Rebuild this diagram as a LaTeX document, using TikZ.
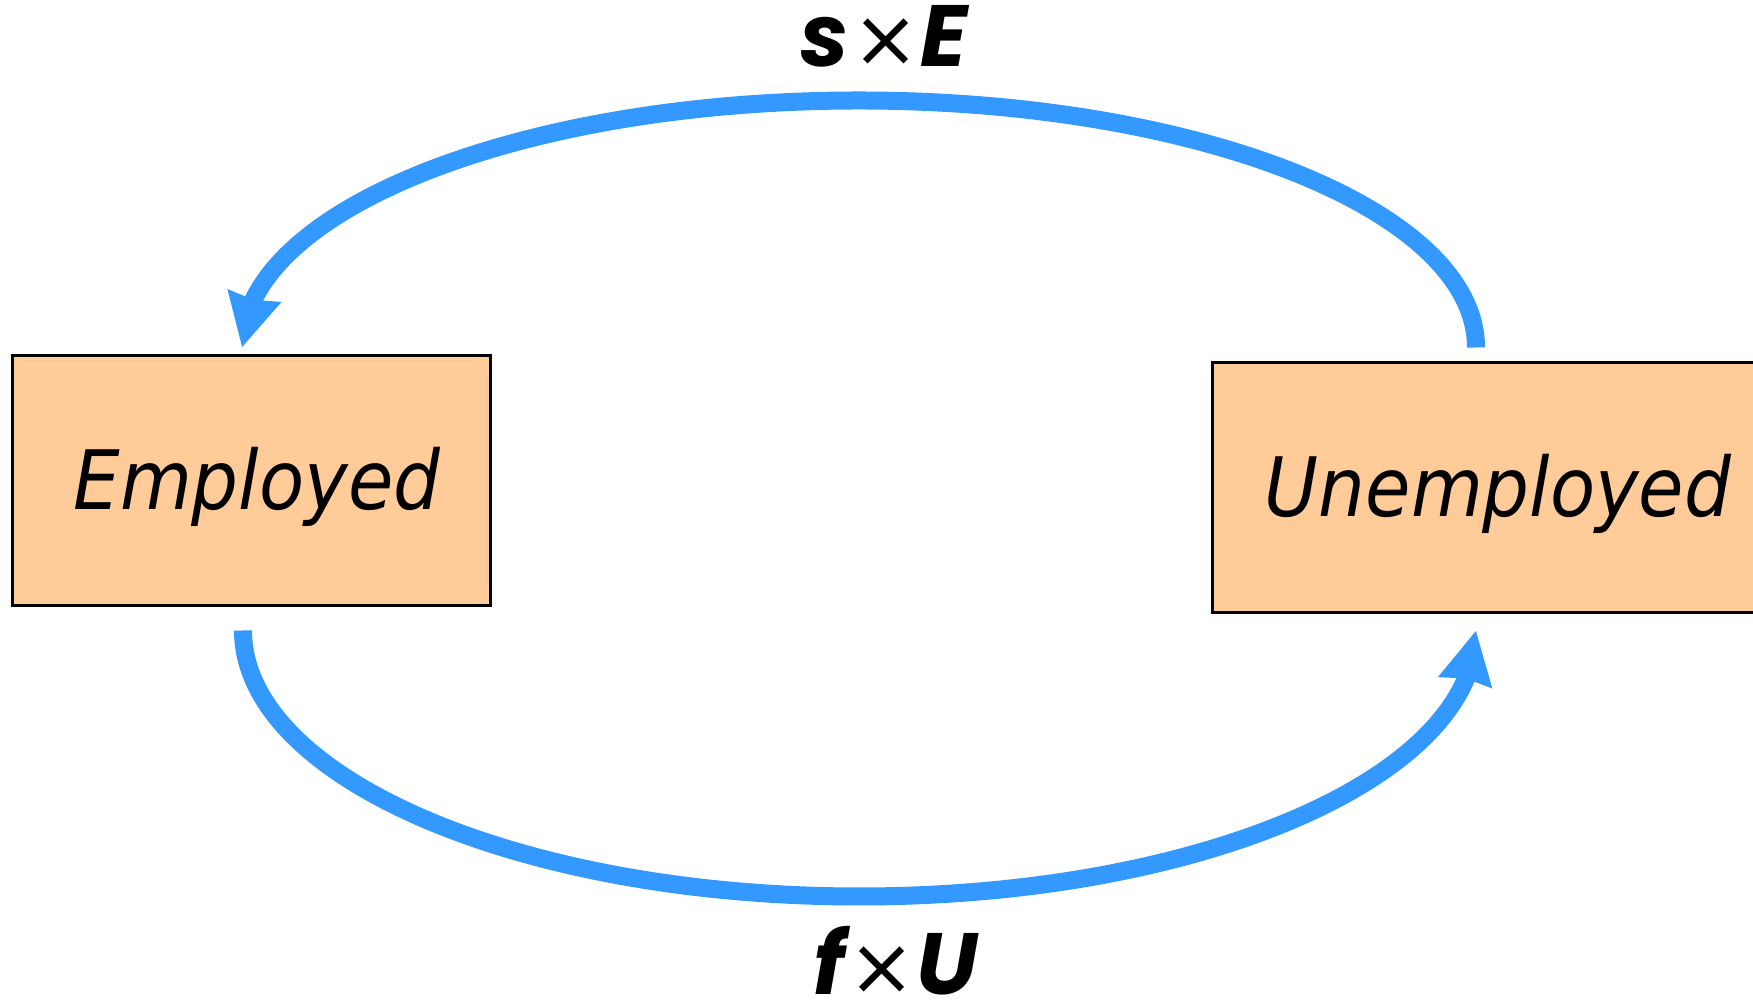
\documentclass[tikz,border=0pt]{standalone}
\usepackage{fontspec}
\setmainfont{DejaVu Sans Condensed}
\newfontfamily\ratefont{Poppins}
\newfontfamily\crossfont{DejaVu Sans}
\usetikzlibrary{arrows.meta,bending}
\definecolor{flowblue}{HTML}{3399FF}
\definecolor{peach}{HTML}{FFCC99}
\newcommand{\crossby}{\kern.04em{\crossfont\mdseries\upshape\fontsize{80}{90}\selectfont ×}\kern.01em}
\tikzset{state/.style={draw=black,fill=peach,line width=3pt,minimum height=250pt,inner sep=0pt,text depth=6pt,font=\fontsize{82}{100}\selectfont\itshape},flow/.style={-{Stealth[length=52pt,width=52pt,inset=3pt]},line width=18pt,draw=flowblue},rate/.style={anchor=base,inner sep=0pt,font=\ratefont\fontsize{87}{100}\selectfont\bfseries\itshape}}

\begin{document}
\begin{tikzpicture}[x=1pt,y=1pt]
\useasboundingbox (0,0) rectangle (1753,1000);
\clip (0,0) rectangle (1753,1000);
\node[state,minimum width=478pt] (emp) at (251,519) {\kern12pt Employed};
\node[state,minimum width=572pt] (unemp) at (1498,512) {Unemployed};
\draw[flow] ([shift={(-22,14)}]unemp.north) arc[start angle=0,end angle=180,x radius=617,y radius=247];
\draw[flow] ([shift={(-8,-23)}]emp.south) arc[start angle=180,end angle=360,x radius=616.5,y radius=266];
\node[rate] (se) at (884,933) {s\crossby E};
\node[rate] (fu) at (896,5) {f\crossby U};
\end{tikzpicture}
\end{document}
